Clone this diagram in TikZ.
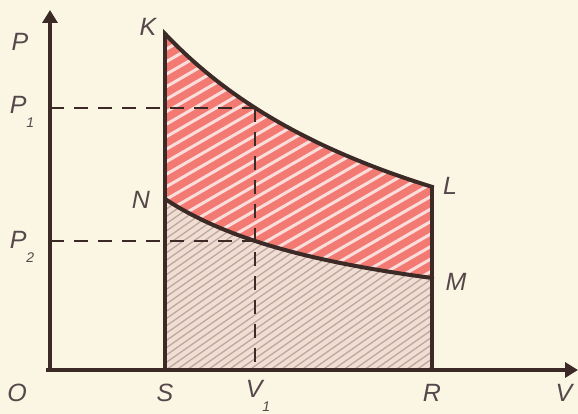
\documentclass[tikz,border=0pt]{standalone}
\usepackage{fontspec}
\setmainfont{Liberation Sans}
\usetikzlibrary{arrows.meta}
\definecolor{bg}{HTML}{FBF6E4}
\definecolor{ink}{HTML}{3B2A26}
\definecolor{txt}{HTML}{55474A}
\definecolor{hotred}{HTML}{F27A72}
\definecolor{palered}{HTML}{F1DDD2}
\definecolor{hatchgrey}{HTML}{B9A9A2}
\tikzset{
  axis/.style={ink, line width=4pt, -{Triangle[width=15pt,length=13pt]}},
  edge/.style={ink, line width=4pt, line join=round},
  curve/.style={ink, line width=4pt, line cap=round},
  guide/.style={ink, line width=2.8pt, dash pattern=on 14pt off 10pt},
  lbl/.style={txt, font=\fontsize{25}{25}\selectfont\itshape, inner sep=0pt},
}
\newcommand{\subl}[2]{#1\raisebox{-0.55em}{\fontsize{14}{14}\selectfont #2}}
\begin{document}
\begin{tikzpicture}[x=1pt,y=-1pt]
\fill[bg] (0,0) rectangle (578,414);
\useasboundingbox (0,0) rectangle (578,414);
% key points
\coordinate (O) at (50,370);
\coordinate (S) at (165,370);
\coordinate (R) at (432,370);
\coordinate (K) at (165,34);
\coordinate (L) at (432,187);
\coordinate (N) at (165,199);
\coordinate (M) at (432,278);
\coordinate (A) at (255,108);
\coordinate (B) at (255,241);
\coordinate (yA) at (50,108);
\coordinate (yB) at (50,241);
\coordinate (Vb) at (255,370);
\coordinate (ytop) at (50,10);
\coordinate (xend) at (578,370);
\coordinate (xstart) at (46,370);
\coordinate (ybot) at (50,372);
% upper region
\begin{scope}
\clip (K) -- plot[domain=165:432, samples=60] (\x, {368.6 - 1060.82/((\x+152)*0.01)}) -- (M)
  -- plot[domain=432:165, samples=60] (\x, {342.1 - 309.91/((\x+51.6)*0.01)}) -- cycle;
\fill[hotred] (0,0) rectangle (578,414);
\foreach \c in {0,12.5,...,800} {
  \draw[white, opacity=0.75, line width=3pt] (100,\c) -- (500,\c-231);
}
\end{scope}
% lower region
\begin{scope}
\clip (N) -- plot[domain=165:432, samples=60] (\x, {342.1 - 309.91/((\x+51.6)*0.01)}) -- (R) -- (S) -- cycle;
\fill[palered] (0,0) rectangle (578,414);
\foreach \c in {0,7.3,...,800} {
  \draw[hatchgrey, line width=1.3pt] (100,\c) -- (500,\c-280);
}
\end{scope}
% dashed guides
\draw[guide] (yA) -- (A);
\draw[guide] (yB) -- (B);
\draw[guide] (A) -- (Vb);
% curves K-L and N-M
\draw[curve] (K) -- plot[domain=165:432, samples=60] (\x, {368.6 - 1060.82/((\x+152)*0.01)}) -- (L);
\draw[curve] (N) -- plot[domain=165:432, samples=60] (\x, {342.1 - 309.91/((\x+51.6)*0.01)}) -- (M);
% edges
\draw[edge] (S) -- (K);
\draw[edge] (R) -- (L);
% axes
\draw[axis] (ybot) -- (ytop);
\draw[axis] (xstart) -- (xend);
% labels
\node[lbl] (lp) at (20,42) {P};
\node[lbl] (lp1) at (22,112) {\subl{P}{1}};
\node[lbl] (lp2) at (22,247) {\subl{P}{2}};
\node[lbl] (lk) at (148,27) {K};
\node[lbl] (ln) at (141,200) {N};
\node[lbl] (ll) at (450,186) {L};
\node[lbl] (lm) at (456,282) {M};
\node[lbl] (lo) at (17,393) {O};
\node[lbl] (ls) at (165,393) {S};
\node[lbl] (lv1) at (258,396) {\subl{V}{1}};
\node[lbl] (lr) at (432,393) {R};
\node[lbl] (lv) at (564,393) {V};
\end{tikzpicture}
\end{document}
